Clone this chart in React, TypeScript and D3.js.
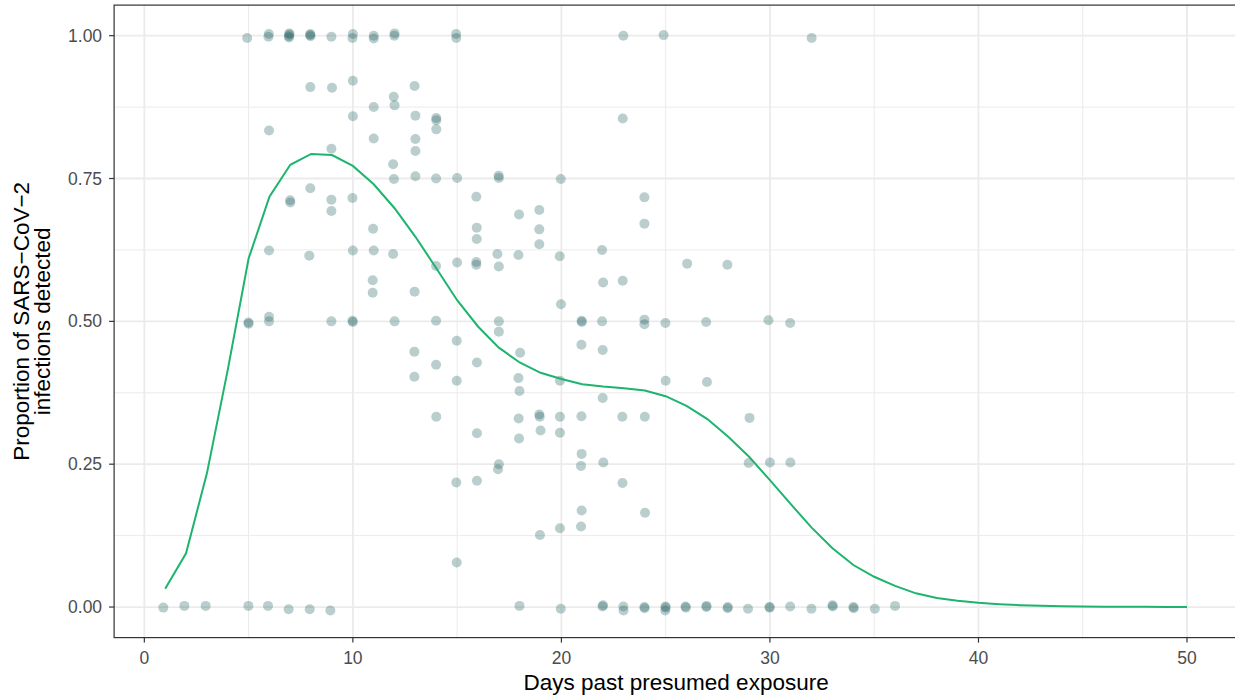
import React from "react";
import * as d3 from "d3";

// Observed points (days past exposure, proportion detected), jittered as in the reference
const pointDays: number[] = [
  4.93, 5.95, 5.97, 6.94, 6.96, 6.93, 6.95, 7.96, 7.97, 7.95, 8.97, 10.0, 9.98, 11.0, 11.0, 12.0, 11.99, 14.95, 14.96, 22.97, 24.9, 32.0,
  7.96, 9.0, 10.0, 12.96, 11.96, 12.0, 11.0, 10.0, 13.0, 14.0, 14.0, 14.0, 5.98, 11.0, 13.0, 13.0, 8.97, 11.93, 11.97, 13.0, 13.99, 15.0, 16.99, 17.0, 19.97, 22.94,
  15.92, 17.97, 18.94, 18.94, 18.94, 15.94, 15.94, 7.96, 6.99, 7.0, 8.97, 8.97, 9.98, 10.97, 23.98, 23.98,
  5.98, 7.91, 10.0, 11.0, 11.93, 13.99, 15.0, 15.92, 15.92, 16.93, 17.0, 17.94, 19.92, 21.95, 26.03, 27.96, 10.95, 10.95, 12.96, 22.94, 22.0, 19.98,
  4.99, 5.0, 5.98, 5.98, 8.97, 9.98, 10.0, 12.0, 13.99, 17.0, 20.97, 20.98, 21.95, 23.98, 23.98, 24.99, 26.94, 29.93, 30.97,
  17.0, 14.98, 18.02, 12.95, 12.95, 13.99, 15.95, 14.98, 17.94, 17.99, 14.0, 17.95, 18.94, 18.96, 19.0, 15.95, 17.97, 17.0, 16.96, 14.96, 15.95, 18.97, 14.98,
  19.93, 20.96, 21.98, 21.98, 25.0, 26.98, 19.93, 20.96, 22.92, 24.0, 29.02, 19.93, 20.97, 20.94, 22.01, 28.98, 30.0, 30.98, 22.93, 20.97, 24.01, 20.94, 19.93,
  0.91, 1.92, 2.94, 4.99, 5.93, 6.92, 7.93, 8.92, 17.99, 19.97,
  22.0, 21.97, 22.97, 22.98, 23.98, 23.99, 24.99, 25.0, 24.98, 25.95, 25.97, 26.95, 26.96, 27.98, 27.97, 28.95, 29.98, 29.99, 30.97, 31.99, 33.0, 33.01, 34.0, 34.02, 35.03, 36.0,
];
const pointProps: number[] = [
  0.996, 0.998, 1.003, 0.997, 1.002, 0.999, 1.004, 1.003, 0.999, 1.001, 0.998, 1.003, 0.996, 1.0, 0.995, 1.004, 1.0, 1.003, 0.996, 1.0, 1.001, 0.996,
  0.91, 0.909, 0.921, 0.912, 0.893, 0.878, 0.875, 0.859, 0.86, 0.856, 0.852, 0.836, 0.834, 0.82, 0.819, 0.798, 0.802, 0.775, 0.749, 0.754, 0.75, 0.751, 0.755, 0.751, 0.749, 0.855,
  0.718, 0.687, 0.695, 0.661, 0.635, 0.664, 0.644, 0.733, 0.712, 0.708, 0.713, 0.693, 0.716, 0.662, 0.717, 0.671,
  0.624, 0.615, 0.624, 0.624, 0.618, 0.597, 0.603, 0.604, 0.599, 0.618, 0.596, 0.616, 0.614, 0.625, 0.601, 0.599, 0.572, 0.55, 0.552, 0.571, 0.568, 0.53,
  0.498, 0.496, 0.508, 0.5, 0.5, 0.501, 0.499, 0.5, 0.501, 0.5, 0.501, 0.499, 0.5, 0.503, 0.495, 0.497, 0.499, 0.502, 0.497,
  0.482, 0.466, 0.445, 0.447, 0.403, 0.424, 0.428, 0.396, 0.401, 0.378, 0.333, 0.33, 0.337, 0.333, 0.309, 0.304, 0.295, 0.25, 0.241, 0.218, 0.221, 0.126, 0.078,
  0.396, 0.459, 0.45, 0.366, 0.396, 0.394, 0.333, 0.334, 0.333, 0.333, 0.331, 0.305, 0.268, 0.247, 0.253, 0.252, 0.253, 0.253, 0.217, 0.169, 0.165, 0.141, 0.138,
  -0.001, 0.002, 0.002, 0.002, 0.002, -0.004, -0.004, -0.006, 0.002, -0.003,
  0.003, 0.001, 0.001, -0.006, 0.0, -0.002, 0.001, -0.001, -0.006, 0.001, -0.001, 0.0, 0.002, 0.0, -0.002, -0.003, 0.0, -0.001, 0.001, -0.003, 0.003, 0.001, 0.0, -0.002, -0.003, 0.002,
];

// Fitted curve
const curveDays: number[] = d3.range(1, 51);
const curveProps: number[] = [
  0.032, 0.094, 0.234, 0.415, 0.61, 0.718, 0.774, 0.793, 0.791, 0.772,
  0.74, 0.698, 0.648, 0.593, 0.537, 0.491, 0.454, 0.428, 0.41, 0.399,
  0.39, 0.386, 0.383, 0.379, 0.369, 0.352, 0.329, 0.298, 0.263, 0.222,
  0.18, 0.139, 0.103, 0.0735, 0.053, 0.037, 0.024, 0.016, 0.011, 0.0075,
  0.005, 0.0033, 0.0022, 0.0015, 0.001, 0.0007, 0.0005, 0.0003, 0.0002, 0.0001,
];

const xTicks: number[] = [0, 10, 20, 30, 40, 50];
const xMinor: number[] = [5, 15, 25, 35, 45];
const yTicks: number[] = [0, 0.25, 0.5, 0.75, 1.0];
const yMinor: number[] = [0.125, 0.375, 0.625, 0.875];

const W = 1235;
const H = 698;
const FONT = "'Liberation Sans', Arial, Helvetica, sans-serif";

export default function App() {
  const x = d3.scaleLinear().domain([-1.45, 52.45]).range([114.1, 1238.1]);
  const y = d3.scaleLinear().domain([-0.0535, 1.0535]).range([637.6, 5.1]);
  const [x0, x1] = x.range();
  const [y0, y1] = y.range();

  const line = d3
    .line<number>()
    .x((_, i) => x(curveDays[i]))
    .y((d) => y(d));

  return (
    <svg
      width={W}
      height={H}
      style={{ position: "absolute", left: 0, top: 0, background: "#fff" }}
      fontFamily={FONT}
    >
      <rect x={0} y={0} width={W} height={H} fill="#fff" />
      <rect x={x0} y={y1} width={x1 - x0} height={y0 - y1} fill="#fff" />
      {/* minor grid */}
      {xMinor.map((t) => (
        <line key={"xm" + t} x1={x(t)} x2={x(t)} y1={y1} y2={y0} stroke="#ebebeb" strokeWidth={1} />
      ))}
      {yMinor.map((t) => (
        <line key={"ym" + t} x1={x0} x2={x1} y1={y(t)} y2={y(t)} stroke="#ebebeb" strokeWidth={1} />
      ))}
      {/* major grid */}
      {xTicks.map((t) => (
        <line key={"xg" + t} x1={x(t)} x2={x(t)} y1={y1} y2={y0} stroke="#ebebeb" strokeWidth={1.8} />
      ))}
      {yTicks.map((t) => (
        <line key={"yg" + t} x1={x0} x2={x1} y1={y(t)} y2={y(t)} stroke="#ebebeb" strokeWidth={1.8} />
      ))}
      {/* points */}
      {pointDays.map((d, i) => (
        <circle key={"p" + i} cx={x(d)} cy={y(pointProps[i])} r={5} fill="#1f5c5c" fillOpacity={0.3} />
      ))}
      {/* fitted line */}
      <path d={line(curveProps) || ""} fill="none" stroke="#1db46e" strokeWidth={2} />
      {/* panel border */}
      <rect x={x0} y={y1} width={x1 - x0} height={y0 - y1} fill="none" stroke="#333333" strokeWidth={1.2} />
      {/* x axis ticks and labels */}
      {xTicks.map((t) => (
        <g key={"xt" + t}>
          <line x1={x(t)} x2={x(t)} y1={y0} y2={y0 + 5} stroke="#333333" strokeWidth={1.2} />
          <text x={x(t)} y={664} textAnchor="middle" fontSize={17.5} fill="#4d4d4d">
            {t}
          </text>
        </g>
      ))}
      {/* y axis ticks and labels */}
      {yTicks.map((t) => (
        <g key={"yt" + t}>
          <line x1={x0 - 5} x2={x0} y1={y(t)} y2={y(t)} stroke="#333333" strokeWidth={1.2} />
          <text x={x0 - 12} y={y(t) + 6} textAnchor="end" fontSize={17.5} fill="#4d4d4d">
            {d3.format(".2f")(t)}
          </text>
        </g>
      ))}
      {/* axis titles */}
      <text x={(x0 + x1) / 2} y={690} textAnchor="middle" fontSize={22.5} fill="#000">
        Days past presumed exposure
      </text>
      <text
        transform={`translate(29, ${(y0 + y1) / 2}) rotate(-90)`}
        textAnchor="middle"
        fontSize={22.5}
        fill="#000"
      >
        <tspan x={0} dy={0}>Proportion of SARS−CoV−2</tspan>
        <tspan x={0} dy={20.5}>infections detected</tspan>
      </text>
    </svg>
  );
}
